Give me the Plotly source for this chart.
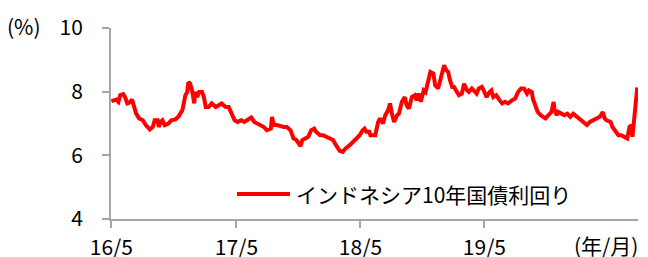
import pandas as pd
import plotly.graph_objects as go

# ---- data ----
start_date = "2016-05-02"
days_since_start = [
    0, 3, 13, 19, 24, 32, 37, 43, 48, 56, 59, 67, 75, 85, 93, 104, 112, 117, 125, 128,
    133, 138, 144, 154, 162, 173, 181, 192, 200, 205, 208, 213, 218, 224, 226, 232, 237, 245, 250, 255,
    263, 271, 282, 290, 298, 309, 317, 325, 333, 341, 351, 359, 367, 378, 386, 394, 404, 412, 420, 431,
    434, 439, 447, 458, 466, 474, 484, 492, 500, 511, 516, 524, 532, 540, 548, 553, 564, 572, 580, 591,
    599, 607, 617, 625, 633, 644, 652, 660, 671, 679, 684, 689, 697, 700, 710, 713, 721, 726, 734, 740,
    748, 753, 758, 764, 772, 777, 785, 793, 798, 804, 812, 820, 825, 830, 836, 844, 849, 857, 862, 870,
    875, 883, 889, 894, 899, 905, 910, 915, 921, 926, 934, 939, 947, 953, 961, 966, 974, 979, 987, 993,
    1001, 1006, 1014, 1022, 1027, 1032, 1040, 1046, 1056, 1064, 1072, 1083, 1091, 1099, 1107, 1115, 1123, 1128, 1136, 1139,
    1147, 1152, 1160, 1168, 1173, 1181, 1189, 1195, 1197, 1203, 1208, 1216, 1224, 1232, 1240, 1248, 1259, 1267, 1275, 1285,
    1293, 1301, 1312, 1320, 1328, 1333, 1338, 1349, 1354, 1362, 1370, 1378, 1389, 1394, 1400, 1405, 1408, 1413, 1418, 1421,
]
yield_pct = [
    7.70, 7.71, 7.75, 7.68, 7.89, 7.92, 7.83, 7.63, 7.65, 7.75, 7.63, 7.31, 7.16, 7.10, 6.95, 6.81, 6.89, 7.10, 7.10, 6.89,
    7.05, 7.10, 6.95, 7.00, 7.10, 7.13, 7.21, 7.42, 7.89, 7.99, 8.30, 8.25, 8.04, 7.63, 7.99, 7.83, 7.99, 7.99, 7.83, 7.52,
    7.52, 7.63, 7.52, 7.57, 7.63, 7.52, 7.52, 7.31, 7.10, 7.05, 7.10, 7.05, 7.10, 7.19, 7.05, 7.00, 6.95, 6.89, 6.79, 6.84,
    7.21, 6.95, 6.95, 6.91, 6.89, 6.89, 6.79, 6.53, 6.48, 6.29, 6.48, 6.53, 6.58, 6.79, 6.84, 6.74, 6.63, 6.63, 6.58, 6.53,
    6.48, 6.32, 6.14, 6.11, 6.22, 6.32, 6.42, 6.48, 6.63, 6.79, 6.84, 6.74, 6.74, 6.63, 6.63, 6.63, 7.05, 7.16, 7.00, 7.26,
    7.42, 7.63, 7.31, 7.05, 7.26, 7.31, 7.68, 7.83, 7.57, 7.47, 7.83, 7.89, 7.73, 7.94, 7.68, 8.04, 7.99, 8.41, 8.62, 8.57,
    8.20, 8.10, 8.41, 8.67, 8.83, 8.67, 8.62, 8.36, 8.15, 8.15, 7.99, 7.89, 7.94, 8.25, 8.04, 7.99, 8.10, 8.04, 7.94, 8.10,
    8.15, 8.04, 7.83, 7.99, 8.04, 7.83, 7.89, 7.78, 7.63, 7.68, 7.63, 7.73, 7.78, 7.99, 8.10, 8.10, 7.94, 8.04, 7.99, 7.78,
    7.47, 7.36, 7.26, 7.21, 7.16, 7.26, 7.36, 7.68, 7.47, 7.26, 7.36, 7.31, 7.26, 7.31, 7.21, 7.31, 7.21, 7.10, 7.05, 6.95,
    7.05, 7.10, 7.16, 7.21, 7.36, 7.16, 7.10, 7.05, 6.89, 6.74, 6.63, 6.63, 6.58, 6.53, 6.89, 6.95, 6.58, 7.16, 7.68, 8.13,
]
tick_dates = ["2016-05-02", "2017-04-05", "2018-03-06", "2019-02-04"]
tick_labels = ["16/5", "17/5", "18/5", "19/5"]
x_range = ["2016-05-01", "2020-03-25"]
y_ticks = [4, 6, 8, 10]
series_name = "インドネシア10年国債利回り"

dates = pd.Timestamp(start_date) + pd.to_timedelta(days_since_start, unit="D")

FONT = "Noto Sans CJK JP, Noto Sans, sans-serif"
RED = "#FF0000"
GREY = "#A6A6A6"
FS = 21

# the page body has an 8px margin, so the figure is sized/offset to compensate
OFF = 8
W, H = 640 - OFF, 257 - OFF
L, T = 111 - OFF, 28 - OFF
R = 2
B = (H + OFF) - 219
pw = W - L - R
ph = H - T - B

def px(xp):  # page pixel -> paper
    return (xp - OFF - L) / pw

def py(yp):
    return (H - B - (yp - OFF)) / ph

fig = go.Figure()
fig.add_trace(go.Scatter(
    x=dates, y=yield_pct, mode="lines", name=series_name,
    line=dict(color=RED, width=4), showlegend=False,
))

fig.update_layout(
    width=W, height=H,
    margin=dict(l=L, r=R, t=T, b=B, pad=0, autoexpand=False),
    paper_bgcolor="white", plot_bgcolor="white",
    font=dict(family=FONT, size=FS, color="#000000"),
    showlegend=False,
)
fig.update_xaxes(
    type="date", range=x_range, tickvals=tick_dates, ticktext=tick_labels,
    showgrid=False, zeroline=False, showline=True, linecolor=GREY, linewidth=2,
    ticks="outside", ticklen=7, tickwidth=2, tickcolor=GREY, automargin=False,
    ticklabelstandoff=2, tickfont=dict(size=FS),
)
fig.update_yaxes(
    range=[4, 10], tickvals=y_ticks,
    showgrid=False, zeroline=False, showline=True, linecolor=GREY, linewidth=2,
    ticks="outside", ticklen=7, tickwidth=2, tickcolor=GREY, automargin=False,
    ticklabelstandoff=15, tickfont=dict(size=FS),
)

# manual legend
fig.add_shape(type="line", xref="paper", yref="paper",
              x0=px(237), x1=px(290), y0=py(194), y1=py(194),
              line=dict(color=RED, width=4))
fig.add_annotation(text=series_name, xref="paper", yref="paper",
                   x=px(294), y=py(194), xanchor="left", yanchor="middle",
                   showarrow=False, font=dict(size=FS))

fig.add_annotation(text="(%)", xref="paper", yref="paper",
                   x=px(5), y=py(26), xanchor="left", yanchor="middle",
                   showarrow=False, font=dict(size=FS))
fig.add_annotation(text="(年/月)", xref="paper", yref="paper",
                   x=px(640), y=py(245), xanchor="right", yanchor="middle",
                   showarrow=False, font=dict(size=FS))

fig.write_html("out.html")
